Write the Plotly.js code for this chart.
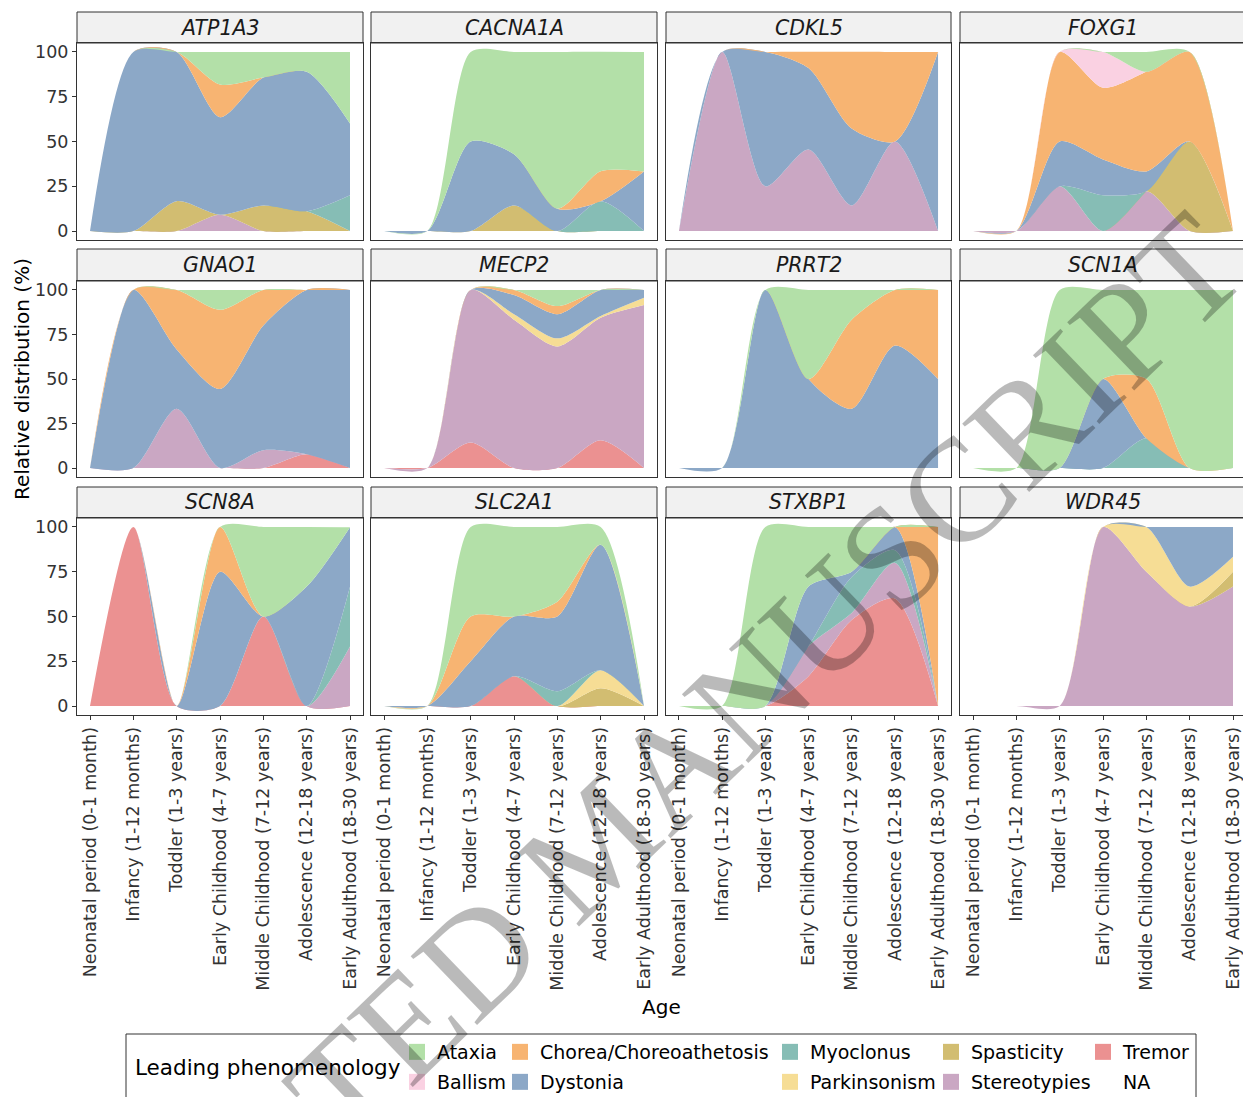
<!DOCTYPE html>
<html>
<head>
<meta charset="utf-8">
<script src="https://cdn.plot.ly/plotly-3.0.1.min.js"></script>
<style>
  html, body { margin: 0; padding: 0; background: #ffffff; overflow: hidden; }
  #chart { width: 1243px; height: 1097px; }
</style>
</head>
<body>
<div id="chart"></div>
<script>
// Age groups on the x axis
const ageGroups = [
  'Neonatal period (0-1 month)',
  'Infancy (1-12 months)',
  'Toddler (1-3 years)',
  'Early Childhood (4-7 years)',
  'Middle Childhood (7-12 years)',
  'Adolescence (12-18 years)',
  'Early Adulthood (18-30 years)'
];

const genes = ['ATP1A3', 'CACNA1A', 'CDKL5', 'FOXG1', 'GNAO1', 'MECP2',
               'PRRT2', 'SCN1A', 'SCN8A', 'SLC2A1', 'STXBP1', 'WDR45'];

// Stacking order, bottom to top
const phenotypeOrder = ['Tremor', 'Stereotypies', 'Spasticity', 'Parkinsonism', 'Myoclonus',
                        'Dystonia', 'Chorea/Choreoathetosis', 'Ballism', 'Ataxia'];

// Legend layout: two rows of five entries
const legendRows = [
  ['Ataxia', 'Chorea/Choreoathetosis', 'Myoclonus', 'Spasticity', 'Tremor'],
  ['Ballism', 'Dystonia', 'Parkinsonism', 'Stereotypies', 'NA']
];

// Relative distribution (%) per age group
const atp1a3Ataxia       = [0, 0, 0, 18.2, 14.3, 11.1, 40];
const atp1a3Chorea       = [0, 0, 0, 18.2, 0, 0, 0];
const atp1a3Dystonia     = [0, 100, 83.3, 54.5, 71.4, 77.8, 40];
const atp1a3Myoclonus    = [0, 0, 0, 0, 0, 0, 20];
const atp1a3Spasticity   = [0, 0, 16.7, 0, 14.3, 11.1, 0];
const atp1a3Stereotypies = [0, 0, 0, 9.1, 0, 0, 0];

const cacna1aAtaxia      = [0, 0, 50, 57.1, 87.5, 66.7, 66.7];
const cacna1aChorea      = [0, 0, 0, 0, 0, 16.7, 0];
const cacna1aDystonia    = [0, 0, 50, 28.6, 12.5, 0, 33.3];
const cacna1aMyoclonus   = [0, 0, 0, 0, 0, 16.7, 0];
const cacna1aSpasticity  = [0, 0, 0, 14.3, 0, 0, 0];

const cdkl5Chorea        = [0, 0, 0, 9.1, 42.9, 50, 0];
const cdkl5Dystonia      = [0, 0, 75, 45.5, 42.9, 0, 100];
const cdkl5Stereotypies  = [0, 100, 25, 45.5, 14.3, 50, 0];

const foxg1Ataxia        = [0, 0, 0, 0, 11.1, 0, 0];
const foxg1Ballism       = [0, 0, 0, 20, 0, 0, 0];
const foxg1Chorea        = [0, 0, 50, 40, 55.6, 50, 0];
const foxg1Dystonia      = [0, 0, 25, 20, 11.1, 0, 0];
const foxg1Myoclonus     = [0, 0, 0, 20, 0, 0, 0];
const foxg1Spasticity    = [0, 0, 0, 0, 0, 50, 0];
const foxg1Stereotypies  = [0, 0, 25, 0, 22.2, 0, 0];

const gnao1Ataxia        = [0, 0, 0, 11.1, 0, 0, 0];
const gnao1Chorea        = [0, 0, 33.3, 44.4, 20, 0, 0];
const gnao1Dystonia      = [0, 100, 33.3, 44.4, 70, 92.3, 100];
const gnao1Stereotypies  = [0, 0, 33.3, 0, 10, 0, 0];
const gnao1Tremor        = [0, 0, 0, 0, 0, 7.7, 0];

const mecp2Ataxia        = [0, 0, 0, 0, 9.1, 0, 0];
const mecp2Chorea        = [0, 0, 0, 2.9, 4.5, 0, 0];
const mecp2Dystonia      = [0, 0, 0, 10.7, 13.6, 14.6, 4.4];
const mecp2Parkinsonism  = [0, 0, 0, 3.1, 4.5, 1.0, 4.1];
const mecp2Stereotypies  = [0, 0, 85.7, 83.3, 68.3, 68.8, 91.5];
const mecp2Tremor        = [0, 0, 14.3, 0, 0, 15.6, 0];

const prrt2Ataxia        = [0, 0, 0, 50, 16.7, 0, 0];
const prrt2Chorea        = [0, 0, 0, 0, 50, 31.2, 50];
const prrt2Dystonia      = [0, 0, 100, 50, 33.3, 68.8, 50];

const scn1aAtaxia        = [0, 0, 100, 50, 50, 100, 100];
const scn1aChorea        = [0, 0, 0, 0, 33.3, 0, 0];
const scn1aDystonia      = [0, 0, 0, 50, 0, 0, 0];
const scn1aMyoclonus     = [0, 0, 0, 0, 16.7, 0, 0];

const scn8aAtaxia        = [0, 0, 0, 0, 50, 33.3, 0];
const scn8aChorea        = [0, 0, 0, 25, 0, 0, 0];
const scn8aDystonia      = [0, 0, 0, 75, 0, 66.7, 33.3];
const scn8aMyoclonus     = [0, 0, 0, 0, 0, 0, 33.3];
const scn8aStereotypies  = [0, 0, 0, 0, 0, 0, 33.3];
const scn8aTremor        = [0, 100, 0, 0, 50, 0, 0];

const slc2a1Ataxia       = [0, 0, 50, 50, 41.7, 10, 0];
const slc2a1Chorea       = [0, 0, 25, 0, 8.3, 0, 0];
const slc2a1Dystonia     = [0, 0, 25, 33.3, 41.7, 70, 0];
const slc2a1Myoclonus    = [0, 0, 0, 0, 8.3, 0, 0];
const slc2a1Parkinsonism = [0, 0, 0, 0, 0, 10, 0];
const slc2a1Spasticity   = [0, 0, 0, 0, 0, 10, 0];
const slc2a1Tremor       = [0, 0, 0, 16.7, 0, 0, 0];

const stxbp1Ataxia       = [0, 0, 100, 33.3, 25, 0, 0];
const stxbp1Chorea       = [0, 0, 0, 0, 0, 0, 100];
const stxbp1Dystonia     = [0, 0, 0, 33.3, 3, 13, 0];
const stxbp1Myoclonus    = [0, 0, 0, 0, 20, 7, 0];
const stxbp1Stereotypies = [0, 0, 0, 16.7, 4, 20, 0];
const stxbp1Tremor       = [0, 0, 0, 16.7, 48, 60, 0];

const wdr45Dystonia      = [0, 0, 0, 0, 0, 33.3, 16.7];
const wdr45Parkinsonism  = [0, 0, 0, 0, 25, 11.1, 8.3];
const wdr45Spasticity    = [0, 0, 0, 0, 0, 0, 8.3];
const wdr45Stereotypies  = [0, 0, 0, 100, 75, 55.6, 66.7];

const panelSeries = [
  { Ataxia: atp1a3Ataxia, 'Chorea/Choreoathetosis': atp1a3Chorea, Dystonia: atp1a3Dystonia,
    Myoclonus: atp1a3Myoclonus, Spasticity: atp1a3Spasticity, Stereotypies: atp1a3Stereotypies },
  { Ataxia: cacna1aAtaxia, 'Chorea/Choreoathetosis': cacna1aChorea, Dystonia: cacna1aDystonia,
    Myoclonus: cacna1aMyoclonus, Spasticity: cacna1aSpasticity },
  { 'Chorea/Choreoathetosis': cdkl5Chorea, Dystonia: cdkl5Dystonia, Stereotypies: cdkl5Stereotypies },
  { Ataxia: foxg1Ataxia, Ballism: foxg1Ballism, 'Chorea/Choreoathetosis': foxg1Chorea,
    Dystonia: foxg1Dystonia, Myoclonus: foxg1Myoclonus, Spasticity: foxg1Spasticity,
    Stereotypies: foxg1Stereotypies },
  { Ataxia: gnao1Ataxia, 'Chorea/Choreoathetosis': gnao1Chorea, Dystonia: gnao1Dystonia,
    Stereotypies: gnao1Stereotypies, Tremor: gnao1Tremor },
  { Ataxia: mecp2Ataxia, 'Chorea/Choreoathetosis': mecp2Chorea, Dystonia: mecp2Dystonia,
    Parkinsonism: mecp2Parkinsonism, Stereotypies: mecp2Stereotypies, Tremor: mecp2Tremor },
  { Ataxia: prrt2Ataxia, 'Chorea/Choreoathetosis': prrt2Chorea, Dystonia: prrt2Dystonia },
  { Ataxia: scn1aAtaxia, 'Chorea/Choreoathetosis': scn1aChorea, Dystonia: scn1aDystonia,
    Myoclonus: scn1aMyoclonus },
  { Ataxia: scn8aAtaxia, 'Chorea/Choreoathetosis': scn8aChorea, Dystonia: scn8aDystonia,
    Myoclonus: scn8aMyoclonus, Stereotypies: scn8aStereotypies, Tremor: scn8aTremor },
  { Ataxia: slc2a1Ataxia, 'Chorea/Choreoathetosis': slc2a1Chorea, Dystonia: slc2a1Dystonia,
    Myoclonus: slc2a1Myoclonus, Parkinsonism: slc2a1Parkinsonism, Spasticity: slc2a1Spasticity,
    Tremor: slc2a1Tremor },
  { Ataxia: stxbp1Ataxia, 'Chorea/Choreoathetosis': stxbp1Chorea, Dystonia: stxbp1Dystonia,
    Myoclonus: stxbp1Myoclonus, Stereotypies: stxbp1Stereotypies, Tremor: stxbp1Tremor },
  { Dystonia: wdr45Dystonia, Parkinsonism: wdr45Parkinsonism, Spasticity: wdr45Spasticity,
    Stereotypies: wdr45Stereotypies }
];

const colors = {
  'Ataxia': '#b3e0a8',
  'Ballism': '#fad1e2',
  'Chorea/Choreoathetosis': '#f7b472',
  'Dystonia': '#8ca8c7',
  'Myoclonus': '#86bdb5',
  'Parkinsonism': '#f6dd95',
  'Spasticity': '#d2bd71',
  'Stereotypies': '#caa7c3',
  'Tremor': '#eb9191',
  'NA': 'rgba(0,0,0,0)'
};

// ---- page geometry (pixels) ----
const W = 1243, H = 1097;
const px = v => v / W;
const py = v => 1 - v / H;
const colPx = [[77, 363], [371, 657], [666, 951], [960, 1246]];
const rowPx = [[43, 240], [281, 477], [518, 715]];
const stripPx = [[12, 43], [249, 281], [487, 518]];
const FONT = 'DejaVu Sans, Verdana, sans-serif';

const traces = [];
const layout = {
  width: W, height: H,
  margin: { l: 0, r: 0, t: 0, b: 0, autoexpand: false },
  paper_bgcolor: '#ffffff',
  plot_bgcolor: '#ffffff',
  font: { family: FONT, color: '#333333' },
  showlegend: true,
  shapes: [],
  annotations: []
};

genes.forEach((gene, i) => {
  const n = i + 1;
  const r = Math.floor(i / 4), c = i % 4;
  const xs = n === 1 ? 'x' : 'x' + n;
  const ys = n === 1 ? 'y' : 'y' + n;
  const series = panelSeries[i];

  phenotypeOrder.forEach(name => {
    if (!series[name]) return;
    traces.push({
      type: 'scatter', mode: 'lines',
      x: ageGroups, y: series[name],
      xaxis: xs, yaxis: ys,
      stackgroup: 'panel' + n,
      line: { shape: 'spline', smoothing: 0.75, width: 0, color: colors[name] },
      fillcolor: colors[name],
      name: name, showlegend: false, hoverinfo: 'skip'
    });
  });

  const [x0, x1] = colPx[c];
  const [y0, y1] = rowPx[r];
  const visRight = Math.min(x1, W);
  const spanUnits = 6.6;
  const xRange = [-0.3, -0.3 + (visRight - x0) * spanUnits / (x1 - x0)];

  layout['xaxis' + (n === 1 ? '' : n)] = {
    domain: [px(x0), px(visRight)],
    anchor: ys,
    type: 'category',
    categoryorder: 'array', categoryarray: ageGroups,
    range: xRange,
    showgrid: false, zeroline: false,
    showline: true, mirror: true, linecolor: '#333333', linewidth: 1,
    showticklabels: r === 2,
    ticks: r === 2 ? 'outside' : '',
    ticklen: 4, tickwidth: 1, tickcolor: '#333333',
    tickangle: -90,
    tickfont: { family: FONT, size: 17.5, color: '#333333' },
    automargin: false,
    fixedrange: true
  };
  layout['yaxis' + (n === 1 ? '' : n)] = {
    domain: [py(y1), py(y0)],
    anchor: xs,
    range: [-5, 105],
    tickvals: [0, 25, 50, 75, 100],
    showgrid: false, zeroline: false,
    showline: true, mirror: true, linecolor: '#333333', linewidth: 1,
    showticklabels: c === 0,
    ticks: c === 0 ? 'outside' : '',
    ticklen: 4, tickwidth: 1, tickcolor: '#333333',
    tickfont: { family: FONT, size: 17.5, color: '#333333' },
    automargin: false,
    fixedrange: true
  };

  // facet strip
  const [s0, s1] = stripPx[r];
  layout.shapes.push({
    type: 'rect', xref: 'paper', yref: 'paper',
    x0: px(x0), x1: px(x1), y0: py(s1), y1: py(s0),
    fillcolor: '#f1f1f1', line: { color: '#333333', width: 1 }, layer: 'below'
  });
  layout.annotations.push({
    text: gene, xref: 'paper', yref: 'paper',
    x: px((x0 + x1) / 2), y: py((s0 + s1) / 2),
    xanchor: 'center', yanchor: 'middle', showarrow: false,
    font: { family: FONT, size: 20.5, style: 'italic', color: '#1a1a1a' }
  });
});

// axis titles
layout.annotations.push({
  text: 'Relative distribution (%)', xref: 'paper', yref: 'paper',
  x: px(22), y: py(379), textangle: -90, showarrow: false,
  xanchor: 'center', yanchor: 'middle',
  font: { family: FONT, size: 20, color: '#000000' }
});
layout.annotations.push({
  text: 'Age', xref: 'paper', yref: 'paper',
  x: px(661), y: py(1007), showarrow: false,
  xanchor: 'center', yanchor: 'middle',
  font: { family: FONT, size: 20, color: '#000000' }
});

// legend box and title
layout.shapes.push({
  type: 'rect', xref: 'paper', yref: 'paper',
  x0: px(126), x1: px(1196), y0: py(1105), y1: py(1034),
  fillcolor: 'rgba(0,0,0,0)', line: { color: '#333333', width: 1 }
});
layout.annotations.push({
  text: 'Leading phenomenology', xref: 'paper', yref: 'paper',
  x: px(133), y: py(1067), showarrow: false,
  xanchor: 'left', yanchor: 'middle',
  font: { family: FONT, size: 21.5, color: '#000000' }
});

// one single-entry legend per key so the grid lines up in columns
const legendColLeft = [397, 500, 770, 931, 1083];
const legendRowTop = [1033, 1063];
let legendCount = 0;
legendRows.forEach((row, ri) => {
  row.forEach((name, ci) => {
    legendCount += 1;
    const key = legendCount === 1 ? 'legend' : 'legend' + legendCount;
    layout[key] = {
      x: px(legendColLeft[ci]), y: py(legendRowTop[ri]),
      xanchor: 'left', yanchor: 'top',
      orientation: 'v', bgcolor: 'rgba(0,0,0,0)', borderwidth: 0,
      itemwidth: 30, traceorder: 'normal',
      itemclick: false, itemdoubleclick: false,
      font: { family: FONT, size: 19, color: '#000000' }
    };
    traces.push({
      type: 'scatter', mode: 'markers',
      x: [null], y: [null], xaxis: 'x', yaxis: 'y',
      name: name, legend: key, showlegend: true, hoverinfo: 'skip',
      marker: { symbol: 'square', size: 20, color: colors[name], line: { width: 0 } }
    });
  });
});

// diagonal watermark
layout.annotations.push({
  text: 'ACCEPTED MANUSCRIPT', xref: 'paper', yref: 'paper',
  x: px(596), y: py(842), textangle: -44, showarrow: false,
  xanchor: 'center', yanchor: 'middle',
  font: { family: 'Liberation Serif, Times New Roman, serif', size: 146, color: 'rgba(0,0,0,0.27)' }
});

Plotly.newPlot('chart', traces, layout, { staticPlot: true, displayModeBar: false });
</script>
</body>
</html>
